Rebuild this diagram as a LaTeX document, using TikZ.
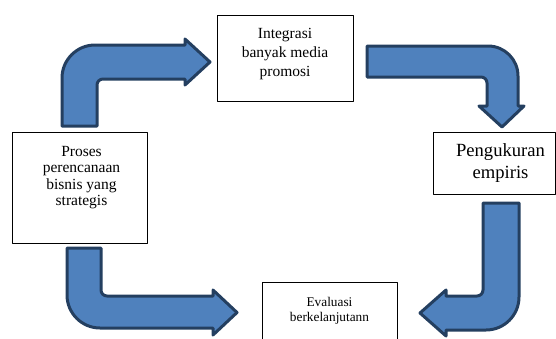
\documentclass[tikz,border=0pt]{standalone}
\usepackage{fontspec}
\setmainfont{Liberation Serif}
\usetikzlibrary{positioning}

\definecolor{arrowfill}{RGB}{79,129,189}
\definecolor{arrowline}{RGB}{36,63,96}

\tikzset{
  box/.style={draw=black, line width=1pt, fill=white, inner sep=0pt, align=center},
  blockarrow/.style={fill=arrowfill, draw=arrowline, line width=3pt, line join=round}
}

\begin{document}
\begin{tikzpicture}[x=1pt, y=-1pt, line join=round, line cap=round]
    \useasboundingbox (0,0) rectangle (556,338);
    \clip (0,0) rectangle (556,338);
    % boxes
    \node[box, minimum width=135pt, minimum height=111pt, text depth=23pt,
          font=\fontsize{15.5}{16.3}\selectfont] (proses) at (79.5,187.5)
          {\hspace*{4pt}Proses\\\hspace*{4pt}perencanaan\\\hspace*{4pt}bisnis yang\\\hspace*{4pt}strategis};
    \node[box, minimum width=136pt, minimum height=86pt, text depth=11pt,
          font=\fontsize{15.5}{19}\selectfont] (integrasi) at (285,58)
          {Integrasi\\banyak media\\promosi};
    \node[box, minimum width=122pt, minimum height=62pt,
          font=\fontsize{18.6}{22}\selectfont] (ukur) at (494,163)
          {\hspace*{13pt}Pengukuran\\\hspace*{13pt}empiris};
    \node[box, minimum width=135pt, minimum height=70pt, text depth=17pt,
          font=\fontsize{13.3}{15}\selectfont, anchor=north] (evaluasi) at (329.5,282)
          {Evaluasi\\berkelanjutann};
    % arrows
    \draw[blockarrow] (62,126) -- (62,78) .. controls (62,59.8) and (76.8,45) .. (95,45)
        -- (185,45) -- (185,39) -- (210,62) -- (185,85) -- (185,79) -- (103,79)
        .. controls (99.7,79) and (97,81.7) .. (97,85) -- (97,126) -- cycle;
    \draw[blockarrow] (367,46) -- (488,46) .. controls (504.6,46) and (518,59.4) .. (518,76)
        -- (518,106) -- (524,106) -- (502,127) -- (479,106) -- (487,106) -- (487,83)
        .. controls (487,79.7) and (484.3,77) .. (481,77) -- (367,77) -- cycle;
    \draw[blockarrow] (67,248) -- (67,295) .. controls (67,313.2) and (81.8,328) .. (100,328)
        -- (213,328) -- (213,335) -- (237,312.5) -- (213,290) -- (213,296) -- (107,296)
        .. controls (103.7,296) and (101,293.3) .. (101,290) -- (101,248) -- cycle;
    \draw[blockarrow] (519,203) -- (519,297) .. controls (519,315.2) and (504.2,330) .. (486,330)
        -- (446,330) -- (446,336) -- (420,313) -- (446,290) -- (446,296) -- (477,296)
        .. controls (480.3,296) and (483,293.3) .. (483,290) -- (483,203) -- cycle;
\end{tikzpicture}
\end{document}
